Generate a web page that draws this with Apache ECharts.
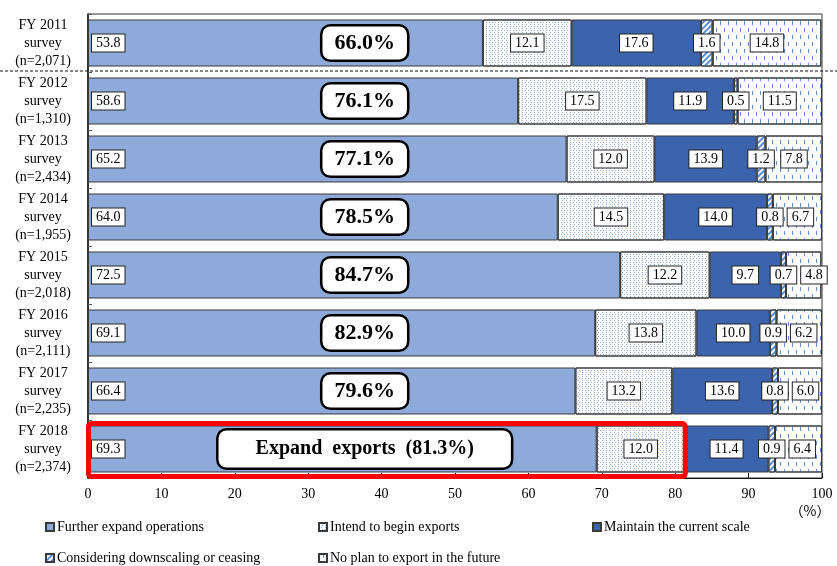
<!DOCTYPE html>
<html>
<head>
<meta charset="utf-8">
<script src="https://cdn.jsdelivr.net/npm/echarts@6/dist/echarts.min.js"></script>
<style>
  html, body { margin: 0; padding: 0; background: #fff; }
  #chart { width: 837px; height: 566px; }
</style>
</head>
<body>
<div id="chart"></div>
<script>
// Survey waves (top to bottom) and respondents per wave
const years = ['FY 2011', 'FY 2012', 'FY 2013', 'FY 2014', 'FY 2015', 'FY 2016', 'FY 2017', 'FY 2018'];
const respondents = ['2,071', '1,310', '2,434', '1,955', '2,018', '2,111', '2,235', '2,374'];

// Shares of respondents (%) by answer
const expandOps     = [53.8, 58.6, 65.2, 64.0, 72.5, 69.1, 66.4, 69.3];
const beginExports  = [12.1, 17.5, 12.0, 14.5, 12.2, 13.8, 13.2, 12.0];
const maintainScale = [17.6, 11.9, 13.9, 14.0, 9.7, 10.0, 13.6, 11.4];
const downscale     = [1.6, 0.5, 1.2, 0.8, 0.7, 0.9, 0.8, 0.9];
const noPlan        = [14.8, 11.5, 7.8, 6.7, 4.8, 6.2, 6.0, 6.4];

// Combined share that intends to expand exports (%)
const expandExportShare = [66.0, 76.1, 77.1, 78.5, 84.7, 82.9, 79.6, 81.3];

const xTicks = { min: 0, max: 100, interval: 10 };

const names = [
  'Further expand operations',
  'Intend to begin exports',
  'Maintain the current scale',
  'Considering downscaling or ceasing',
  'No plan to export in the future'
];

const SERIF = '"Liberation Serif", "Times New Roman", serif';
const LABEL_PAD_X = 4;
const HIGHLIGHT = years.length - 1;
const SUMMARY_X = 37.7;

const measureCtx = document.createElement('canvas').getContext('2d');
measureCtx.font = '14px ' + SERIF;
function textWidth(s) { return measureCtx.measureText(s).width; }
const fmt = v => v.toFixed(1);

const boxLabel = {
  show: true,
  formatter: p => fmt(p.value),
  fontFamily: SERIF,
  fontSize: 14,
  color: '#000',
  backgroundColor: '#fff',
  borderColor: '#222',
  borderWidth: 1,
  padding: [2, LABEL_PAD_X, 1, LABEL_PAD_X]
};

const barBorder = { borderColor: '#3a3a3a', borderWidth: 1 };

function barSeries(name, data, itemStyle, label, extra) {
  return Object.assign({
    name: name,
    type: 'bar',
    stack: 'total',
    barCategoryGap: '19%',
    data: data,
    itemStyle: Object.assign({}, barBorder, itemStyle),
    label: Object.assign({}, boxLabel, { position: 'inside' }, label || {}),
    emphasis: { disabled: true }
  }, extra || {});
}

const summaryData = expandExportShare.map((v, i) => {
  const hi = i === HIGHLIGHT;
  return {
    value: [SUMMARY_X, i],
    label: {
      formatter: hi ? 'Expand  exports  (' + fmt(v) + '%)' : fmt(v) + '%',
      fontSize: hi ? 20 : 22,
      padding: hi ? [9, 37, 8, 37] : [6, 12, 5, 12]
    }
  };
});

const chart = echarts.init(document.getElementById('chart'), null, { renderer: 'canvas' });

function legendAt(name, left, top) {
  return {
    data: [name],
    left: left,
    top: top,
    padding: 0,
    icon: 'rect',
    itemWidth: 8,
    itemHeight: 8,
    selectedMode: false,
    textStyle: { fontFamily: SERIF, fontSize: 14, color: '#000', padding: [0, 0, 0, -2] }
  };
}

chart.setOption({
  animation: false,
  backgroundColor: '#fff',
  grid: { left: 88, right: 15, top: 14, bottom: 88, show: true, borderColor: '#333', borderWidth: 1 },
  legend: [
    legendAt(names[0], 45, 520),
    legendAt(names[1], 318, 520),
    legendAt(names[2], 592, 520),
    legendAt(names[3], 45, 551),
    legendAt(names[4], 318, 551)
  ],
  xAxis: {
    type: 'value',
    min: xTicks.min,
    max: xTicks.max,
    interval: xTicks.interval,
    axisLine: { show: true, lineStyle: { color: '#111', width: 1 } },
    axisTick: { show: true, inside: true, length: 5, lineStyle: { color: '#111' } },
    splitLine: { show: false },
    axisLabel: { fontFamily: SERIF, fontSize: 14, color: '#000', margin: 9 }
  },
  yAxis: {
    type: 'category',
    inverse: true,
    data: years,
    axisLine: { show: true, lineStyle: { color: '#111', width: 1.5 } },
    axisTick: { show: true, inside: true, length: 4, lineStyle: { color: '#555' } },
    axisLabel: {
      fontFamily: SERIF,
      fontSize: 14,
      color: '#000',
      align: 'center',
      margin: 45,
      lineHeight: 18,
      formatter: (v, i) => v + '\nsurvey\n(n=' + respondents[i] + ')'
    }
  },
  series: [
    barSeries(names[0], expandOps, { color: '#8eaadb' }, { position: 'insideLeft', distance: 4 }),
    barSeries(names[1], beginExports, {
      color: '#ffffff',
      decal: {
        symbol: 'rect',
        symbolSize: 1,
        color: '#90b0de',
        dashArrayX: [[1, 2], [0, 1.5, 1, 0.5]],
        dashArrayY: [1, 1]
      }
    }),
    barSeries(names[2], maintainScale, { color: '#3c64ac' }),
    barSeries(names[3], downscale, {
      color: '#ffffff',
      decal: {
        symbol: 'rect',
        symbolSize: 1,
        color: '#5b8bd0',
        dashArrayX: [1, 0],
        dashArrayY: [1.3, 1.7],
        rotation: -Math.PI / 4
      }
    }),
    barSeries(names[4], noPlan, {
      color: '#ffffff',
      decal: {
        symbol: 'rect',
        symbolSize: 1,
        color: '#5f8fd6',
        dashArrayX: [[1, 7], [0, 4, 1, 3]],
        dashArrayY: [4, 3]
      }
    }, null, {
      // keep the last box clear of the neighbouring small-segment box
      labelLayout: function (p) {
        const row = p.dataIndex;
        const pxPer = p.rect.width / noPlan[row];
        const dsCenter = p.rect.x - downscale[row] * pxPer / 2;
        const dsHalf = textWidth(fmt(downscale[row])) / 2 + LABEL_PAD_X + 1;
        const myHalf = textWidth(fmt(noPlan[row])) / 2 + LABEL_PAD_X + 1;
        const center = p.rect.x + p.rect.width / 2;
        const x = Math.max(center, dsCenter + dsHalf + 3 + myHalf);
        return { x: x, y: p.rect.y + p.rect.height / 2, align: 'center', verticalAlign: 'middle' };
      }
    }),
    {
      name: 'summary',
      type: 'scatter',
      z: 10,
      symbolSize: 1,
      itemStyle: { color: 'rgba(0,0,0,0)', opacity: 1 },
      data: summaryData,
      silent: true,
      emphasis: { disabled: true },
      label: {
        show: true,
        position: 'inside',
        fontFamily: SERIF,
        fontWeight: 'bold',
        color: '#000',
        backgroundColor: '#fff',
        borderColor: '#000',
        borderWidth: 2.5,
        borderRadius: 8
      }
    }
  ]
});

// Dashed separator under the first survey wave and frame around the highlighted wave
const c0 = chart.convertToPixel({ gridIndex: 0 }, [0, 0]);
const c1 = chart.convertToPixel({ gridIndex: 0 }, [0, 1]);
const band = c1[1] - c0[1];
const hiLeft = chart.convertToPixel({ gridIndex: 0 }, [0, HIGHLIGHT]);
const hiRight = chart.convertToPixel({ gridIndex: 0 }, [expandExportShare[HIGHLIGHT], HIGHLIGHT]);
const axisEnd = chart.convertToPixel({ gridIndex: 0 }, [xTicks.max, HIGHLIGHT]);
const axisY = hiLeft[1] + band / 2;

chart.setOption({
  graphic: [
    {
      type: 'line',
      z: 20,
      shape: { x1: 0, y1: (c0[1] + c1[1]) / 2 - 1, x2: 837, y2: (c0[1] + c1[1]) / 2 - 1 },
      style: { stroke: '#111', lineWidth: 1, lineDash: [3, 2] }
    },
    {
      type: 'rect',
      z: 20,
      shape: {
        x: hiLeft[0] + 0.5,
        y: hiLeft[1] - band * 0.44,
        width: hiRight[0] - hiLeft[0],
        height: band * 0.915,
        r: 3
      },
      style: { fill: null, stroke: '#ff0000', lineWidth: 5 }
    },
    {
      type: 'text',
      z: 20,
      x: axisEnd[0] - 12,
      y: axisY + 33,
      style: {
        text: '（%）',
        font: '14px "Noto Sans CJK JP", sans-serif',
        fill: '#000',
        align: 'center',
        verticalAlign: 'middle'
      }
    }
  ]
});
</script>
</body>
</html>
